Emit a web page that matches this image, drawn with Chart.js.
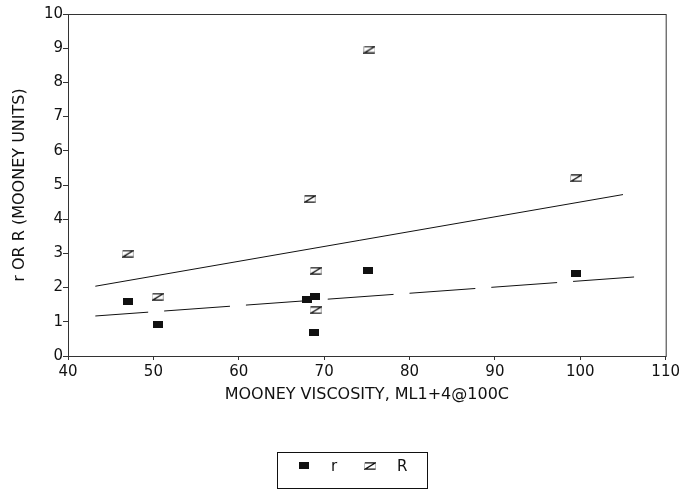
<!DOCTYPE html>
<html>
<head>
<meta charset="utf-8">
<script src="https://cdn.jsdelivr.net/npm/chart.js@4.4.0/dist/chart.umd.min.js"></script>
<style>
  body { margin: 0; background: #fff; }
  canvas { display: block; }
</style>
</head>
<body>
<canvas id="chart" width="683" height="492"></canvas>
<script>
// DATA
// r - filled squares
const rX = [47, 50.5, 68.0, 68.9, 68.85, 75.1, 99.5];
const rY = [1.60, 0.93, 1.66, 1.73, 0.68, 2.49, 2.41];
// R - hatched markers
const bigRX = [47, 50.5, 68.3, 69.0, 69.0, 75.3, 99.5];
const bigRY = [2.99, 1.73, 4.59, 2.49, 1.34, 8.96, 5.2];
// fitted lines
const fitRX = [43.2, 105];
const fitRY = [2.04, 4.72];
const fitrX = [43.2, 106.3];
const fitrY = [1.17, 2.31];
const xTicks = [40, 50, 60, 70, 80, 90, 100, 110];
const yTicks = [0, 1, 2, 3, 4, 5, 6, 7, 8, 9, 10];

const FONT = "'DejaVu Sans', sans-serif";
const INK = '#111';

const toPoints = (xs, ys) => xs.map((x, i) => ({ x, y: ys[i] }));

// marker for r - small filled rectangle
const makeSquare = () => {
  const c = document.createElement('canvas');
  c.width = 10; c.height = 7;
  const g = c.getContext('2d');
  g.fillStyle = INK;
  g.fillRect(0, 0, 10, 7);
  return c;
};

// marker for R - box with a diagonal, sides faint
const makeHatch = () => {
  const c = document.createElement('canvas');
  c.width = 12; c.height = 8;
  const g = c.getContext('2d');
  g.strokeStyle = '#bbb';
  g.lineWidth = 1;
  g.beginPath();
  g.moveTo(0.5, 0.5); g.lineTo(0.5, 7.5);
  g.moveTo(11.5, 0.5); g.lineTo(11.5, 7.5);
  g.stroke();
  g.strokeStyle = INK;
  g.lineWidth = 1.2;
  g.beginPath();
  g.moveTo(1, 0.8); g.lineTo(11.5, 0.8);
  g.lineTo(1, 7.2);
  g.lineTo(11.5, 7.2);
  g.stroke();
  return c;
};

const squareImg = makeSquare();
const hatchImg = makeHatch();

// box around the plot + legend box
const framePlugin = {
  id: 'frame',
  afterDraw(chart) {
    const { ctx, chartArea } = chart;
    ctx.save();
    ctx.strokeStyle = '#333';
    ctx.lineWidth = 1;
    ctx.strokeRect(chartArea.left + 0.5, chartArea.top + 0.5,
      chartArea.right - chartArea.left, chartArea.bottom - chartArea.top);

    // legend
    ctx.strokeStyle = INK;
    ctx.strokeRect(277.5, 452.5, 150, 36);
    ctx.drawImage(squareImg, 299, 462);
    ctx.drawImage(hatchImg, 364, 462);
    ctx.fillStyle = INK;
    ctx.font = '15px ' + FONT;
    ctx.textBaseline = 'middle';
    ctx.fillText('r', 331, 467);
    ctx.fillText('R', 397, 467);
    ctx.restore();
  }
};

new Chart(document.getElementById('chart'), {
  type: 'scatter',
  data: {
    datasets: [
      {
        label: 'r',
        data: toPoints(rX, rY),
        pointStyle: squareImg,
        pointRadius: 5
      },
      {
        label: 'R',
        data: toPoints(bigRX, bigRY),
        pointStyle: hatchImg,
        pointRadius: 6
      },
      {
        label: 'R fit',
        data: toPoints(fitRX, fitRY),
        showLine: true,
        borderColor: INK,
        borderWidth: 1,
        pointRadius: 0
      },
      {
        label: 'r fit',
        data: toPoints(fitrX, fitrY),
        showLine: true,
        borderColor: INK,
        borderWidth: 1,
        borderDash: [66, 16],
        borderDashOffset: 13,
        pointRadius: 0
      }
    ]
  },
  options: {
    responsive: false,
    animation: false,
    layout: { padding: { top: 14, right: 16, left: 0, bottom: 0 } },
    plugins: {
      legend: { display: false },
      tooltip: { enabled: false }
    },
    scales: {
      x: {
        type: 'linear',
        min: 40,
        max: 110,
        afterBuildTicks: (axis) => { axis.ticks = xTicks.map((v) => ({ value: v })); },
        afterFit: (axis) => { axis.height = 136; },
        grid: { drawOnChartArea: false, tickLength: 4, color: '#333' },
        border: { color: '#333', width: 1 },
        ticks: { color: INK, font: { family: FONT, size: 15 }, padding: 3, maxRotation: 0 },
        title: {
          display: true,
          text: 'MOONEY VISCOSITY, ML1+4@100C',
          color: INK,
          font: { family: FONT, size: 16 },
          padding: { top: 0, bottom: 88 }
        }
      },
      y: {
        type: 'linear',
        min: 0,
        max: 10,
        afterBuildTicks: (axis) => { axis.ticks = yTicks.map((v) => ({ value: v })); },
        afterFit: (axis) => { axis.width = 68; },
        grid: { drawOnChartArea: false, tickLength: 5, color: '#333' },
        border: { color: '#333', width: 1 },
        ticks: { color: INK, font: { family: FONT, size: 15 }, padding: 0 },
        title: {
          display: true,
          text: 'r OR R (MOONEY UNITS)',
          color: INK,
          font: { family: FONT, size: 16 },
          padding: { top: 10, bottom: 0 }
        }
      }
    }
  },
  plugins: [framePlugin]
});
</script>
</body>
</html>
